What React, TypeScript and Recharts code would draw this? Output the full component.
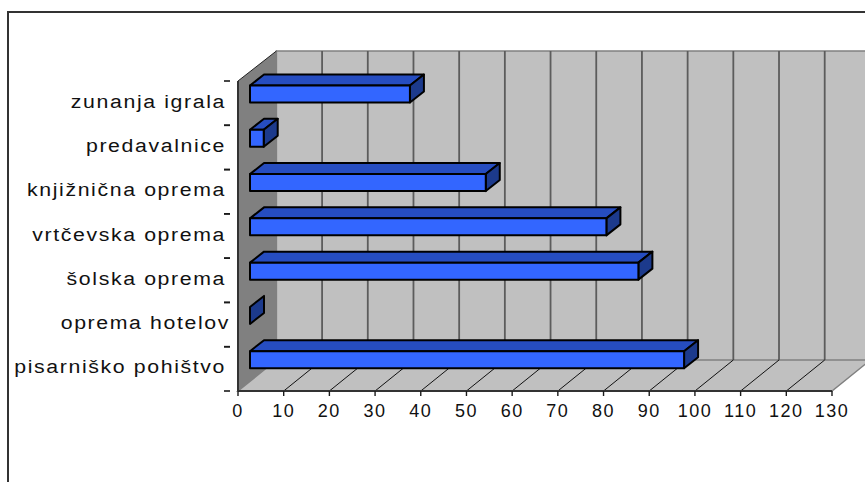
import React from 'react';
import { BarChart, Bar, XAxis, YAxis, CartesianGrid, ReferenceArea } from 'recharts';

const categories = [
  'zunanja igrala',
  'predavalnice',
  'knjižnična oprema',
  'vrtčevska oprema',
  'šolska oprema',
  'oprema hotelov',
  'pisarniško pohištvo',
];
const values = [35, 3, 51.6, 78, 85, 0, 95];
const valueTicks = [0, 10, 20, 30, 40, 50, 60, 70, 80, 90, 100, 110, 120, 130];

const rows = categories.map((name, i) => ({ name, value: values[i] }));

// Projection of the box depth
const WALL_DX = 38.4;
const WALL_DY = 31;
const BAR_SHIFT_X = 12;
const BAR_SHIFT_Y = -9.5;
const BAR_DX = 14;
const BAR_DY = 11;
const BAND = 310 / 7;

const FONT = '"Liberation Sans", Arial, sans-serif';
const INK = '#1a1a1a';

function Walls(props: any) {
  const { x, y, width, height } = props;
  const b = y + height;
  const r = x + width;
  return (
    <g>
      <polygon
        points={`${x},${y} ${x + WALL_DX},${y - WALL_DY + 1} ${x + WALL_DX},${b - WALL_DY} ${x},${b}`}
        fill="#808080"
      />
      <rect x={x + WALL_DX} y={y - WALL_DY + 1} width={width} height={height} fill="#c0c0c0" stroke="#808080" strokeWidth={1.5} />
      <polygon
        points={`${x},${b} ${x + WALL_DX},${b - WALL_DY} ${r + WALL_DX},${b - WALL_DY} ${r},${b}`}
        fill="#c0c0c0"
        stroke="#808080"
        strokeWidth={1.5}
      />
      <line x1={x} y1={y} x2={x + WALL_DX} y2={y - WALL_DY + 1} stroke="#222" strokeWidth={1} />
    </g>
  );
}

// One value gridline: up the back wall, then across the floor to the axis
function GridLine(props: any) {
  const { x1, y1, y2, index } = props;
  const back = x1 + WALL_DX;
  if (index === 0) return <g />;
  return (
    <g>
      <line x1={back} y1={y1 - WALL_DY + 1} x2={back} y2={y2 - WALL_DY} stroke="#5c5c5c" strokeWidth={1.8} />
      {index < valueTicks.length - 1 && (
        <line x1={x1} y1={y2} x2={back} y2={y2 - WALL_DY} stroke="#111" strokeWidth={1} />
      )}
    </g>
  );
}

function Box(props: any) {
  const { x, y, width, height } = props;
  const l = x + BAR_SHIFT_X;
  const t = y + BAR_SHIFT_Y;
  const r = l + width;
  const b = t + height;
  const edge = { stroke: '#000', strokeWidth: 2, strokeLinejoin: 'round' as const };
  return (
    <g>
      {width > 0 && (
        <polygon points={`${l},${t} ${l + BAR_DX},${t - BAR_DY} ${r + BAR_DX},${t - BAR_DY} ${r},${t}`} fill="#264dc0" {...edge} />
      )}
      <polygon points={`${r},${t} ${r + BAR_DX},${t - BAR_DY} ${r + BAR_DX},${b - BAR_DY} ${r},${b}`} fill="#1c3a8c" {...edge} />
      {width > 0 && <rect x={l} y={t} width={width} height={height} fill="#3366ff" {...edge} />}
    </g>
  );
}

function CategoryTick(props: any) {
  const { x, y, payload } = props;
  const endX = payload.value === 'oprema hotelov' ? 230 : 226;
  return (
    <g>
      <line x1={x - 6} y1={y - BAND / 2} x2={x} y2={y - BAND / 2} stroke={INK} strokeWidth={1.6} />
      <line x1={x - 6} y1={y + BAND / 2} x2={x} y2={y + BAND / 2} stroke={INK} strokeWidth={1.6} />
      <text
        transform={`translate(${endX},${y + 4.5}) scale(1.12,1)`}
        textAnchor="end"
        fontFamily={FONT}
        fontSize={19}
        letterSpacing={1.45}
        fill="#111"
      >
        {payload.value}
      </text>
    </g>
  );
}

export default function App() {
  return (
    <div style={{ position: 'absolute', left: 0, top: 0, width: 865, height: 482, overflow: 'hidden', background: '#fff' }}>
      <div
        style={{
          position: 'absolute',
          left: 7,
          top: 11,
          width: 900,
          height: 500,
          borderLeft: '2px solid #333',
          borderTop: '2px solid #333',
        }}
      />
      <div style={{ position: 'absolute', left: 0, top: 0 }}>
        <BarChart
          width={865}
          height={482}
          layout="vertical"
          data={rows}
          margin={{ top: 81, right: 33, bottom: 61, left: 0 }}
          barSize={17}
          style={{ overflow: 'hidden' }}
        >
          <ReferenceArea x1={0} x2={130} shape={Walls} fill="none" stroke="none" zIndex={-200} />
          <CartesianGrid horizontal={false} vertical={GridLine} />
          <XAxis
            type="number"
            domain={[0, 130]}
            ticks={valueTicks}
            interval={0}
            height={30}
            stroke="#333"
            axisLine={{ stroke: '#333', strokeWidth: 2 }}
            tickLine={{ stroke: INK, strokeWidth: 1.4 }}
            tickSize={5}
            tickMargin={8}
            tick={{ fontFamily: FONT, fontSize: 18, letterSpacing: 1.5, fill: '#111' }}
          />
          <YAxis
            type="category"
            dataKey="name"
            width={238}
            interval={0}
            axisLine={{ stroke: '#333', strokeWidth: 2 }}
            tickLine={false}
            tick={CategoryTick}
          />
          <Bar dataKey="value" shape={Box} isAnimationActive={false} />
        </BarChart>
      </div>
    </div>
  );
}
